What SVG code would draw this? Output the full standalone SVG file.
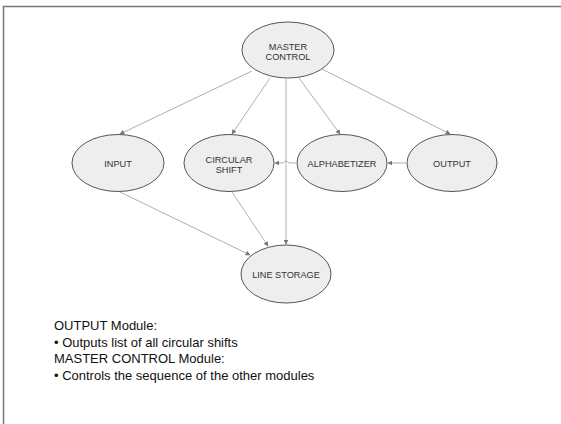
<svg xmlns="http://www.w3.org/2000/svg" width="561" height="424" viewBox="0 0 561 424">
  <style>
    .node ellipse { fill: #eeeeee; stroke: #555555; stroke-width: 1; }
    .node text { font-family: "Liberation Sans", Arial, sans-serif; font-size: 9.2px; fill: #333333; text-anchor: middle; }
    .edge { fill: none; stroke: #b0b0b0; stroke-width: 1; marker-end: url(#arrow); }
    .note { font-family: "Liberation Sans", Arial, sans-serif; font-size: 13px; fill: #111111; }
  </style>
  <defs>
    <marker id="arrow" viewBox="0 0 8 8" refX="7" refY="4" markerWidth="5" markerHeight="5" orient="auto" markerUnits="userSpaceOnUse">
      <path d="M0,0 L8,4 L0,8 Z" fill="#777777"/>
    </marker>
  </defs>

  <rect width="561" height="424" fill="#ffffff"/>
  <!-- page frame, open to the right and bottom -->
  <path d="M3.5,430 L3.5,6.5 L570,6.5" fill="none" stroke="#777777" stroke-width="1.5"/>

  <g id="connectors">
    <line class="edge" x1="252" y1="71" x2="120" y2="134"/>
    <line class="edge" x1="270" y1="78" x2="232" y2="134"/>
    <line class="edge" x1="286" y1="79" x2="286" y2="244"/>
    <line class="edge" x1="299" y1="78" x2="340" y2="134"/>
    <line class="edge" x1="322" y1="69" x2="450" y2="134"/>
    <line class="edge" x1="406" y1="163" x2="388" y2="163"/>
    <path class="edge" d="M296,163 L289,163 Q286,159 283,163 L275,163"/>
    <line class="edge" x1="120" y1="192" x2="250" y2="255"/>
    <line class="edge" x1="232" y1="192" x2="268" y2="246"/>
  </g>

  <g id="master-control" class="node">
    <ellipse cx="288" cy="50" rx="46" ry="28"/>
    <text x="288" y="49.5">MASTER</text>
    <text x="288" y="60">CONTROL</text>
  </g>
  <g id="input" class="node">
    <ellipse cx="118" cy="163" rx="46" ry="28.5"/>
    <text x="118" y="166.5">INPUT</text>
  </g>
  <g id="circular-shift" class="node">
    <ellipse cx="229" cy="163" rx="45" ry="28.5"/>
    <text x="229" y="162.5">CIRCULAR</text>
    <text x="229" y="173">SHIFT</text>
  </g>
  <g id="alphabetizer" class="node">
    <ellipse cx="342" cy="163" rx="45" ry="28.5"/>
    <text x="342" y="166.5">ALPHABETIZER</text>
  </g>
  <g id="output" class="node">
    <ellipse cx="452" cy="163" rx="45" ry="28.5"/>
    <text x="452" y="166.5">OUTPUT</text>
  </g>
  <g id="line-storage" class="node">
    <ellipse cx="286" cy="274" rx="45" ry="29"/>
    <text x="286" y="277.5">LINE STORAGE</text>
  </g>

  <g id="notes">
    <text class="note" x="54" y="330">OUTPUT Module:</text>
    <text class="note" x="54" y="347">• Outputs list of all circular shifts</text>
    <text class="note" x="54" y="363">MASTER CONTROL Module:</text>
    <text class="note" x="54" y="380">• Controls the sequence of the other modules</text>
  </g>
</svg>
